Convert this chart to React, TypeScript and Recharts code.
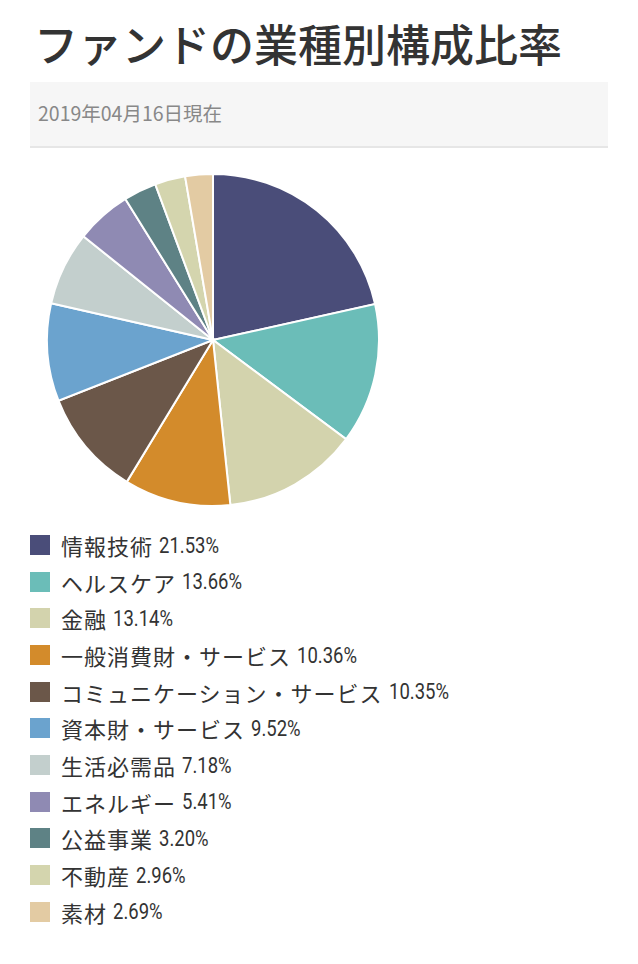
import React from "react"
import { PieChart, Pie, Cell } from "recharts"

const SECTORS = [
  "情報技術",
  "ヘルスケア",
  "金融",
  "一般消費財・サービス",
  "コミュニケーション・サービス",
  "資本財・サービス",
  "生活必需品",
  "エネルギー",
  "公益事業",
  "不動産",
  "素材",
]
const WEIGHTS = [21.53, 13.66, 13.14, 10.36, 10.35, 9.52, 7.18, 5.41, 3.2, 2.96, 2.69]
const COLORS = [
  "#4a4d79",
  "#6bbdb8",
  "#d3d3ad",
  "#d38b2b",
  "#6b5749",
  "#6ba3ce",
  "#c3cfcd",
  "#8f8ab3",
  "#5e8285",
  "#d4d5ae",
  "#e3cba3",
]

const TITLE = "ファンドの業種別構成比率"
const AS_OF = "2019年04月16日現在"

const data = SECTORS.map((name, i) => ({ name, value: WEIGHTS[i] }))

const CJK = "'Noto Sans CJK JP', 'Noto Sans', sans-serif"

export default function App() {
  return (
    <div style={{ position: "absolute", left: 0, top: 0, width: 638, height: 964, background: "#fff", fontFamily: CJK }}>
      <div
        style={{
          position: "absolute",
          left: 34,
          top: 21,
          fontSize: 44,
          lineHeight: "44px",
          fontWeight: 500,
          color: "#333",
          whiteSpace: "nowrap",
        }}
      >
        {TITLE}
      </div>

      <div
        style={{
          position: "absolute",
          left: 30,
          top: 82,
          width: 578,
          height: 64,
          background: "#f6f6f6",
          borderBottom: "2px solid #e6e6e6",
        }}
      >
        <div style={{ position: "absolute", left: 8, top: 20, fontSize: 19.5, lineHeight: "22px", color: "#888", whiteSpace: "nowrap" }}>
          {AS_OF}
        </div>
      </div>

      <div style={{ position: "absolute", left: 0, top: 165 }}>
        <PieChart width={430} height={350}>
          <Pie
            data={data}
            dataKey="value"
            nameKey="name"
            cx={208}
            cy={170}
            outerRadius={166}
            startAngle={90}
            endAngle={-270}
            stroke="#fff"
            strokeWidth={2}
            isAnimationActive={false}
          >
            {data.map((d, i) => (
              <Cell key={d.name} fill={COLORS[i]} />
            ))}
          </Pie>
        </PieChart>
      </div>

      {data.map((d, i) => (
        <div
          key={d.name}
          style={{
            position: "absolute",
            left: 30,
            top: 545 + i * 36.67 - 15,
            height: 30,
            display: "flex",
            alignItems: "center",
            whiteSpace: "nowrap",
            color: "#333",
          }}
        >
          <div style={{ width: 20, height: 20, background: COLORS[i], marginRight: 11 }} />
          <span style={{ fontSize: 22, letterSpacing: 1 }}>{d.name}</span>
          <span
            style={{
              display: "inline-block",
              fontFamily: "Roboto, sans-serif",
              fontSize: 22,
              marginLeft: 6,
              transform: "scaleX(0.84)",
              transformOrigin: "left center",
            }}
          >
            {d.value.toFixed(2)}%
          </span>
        </div>
      ))}
    </div>
  )
}
